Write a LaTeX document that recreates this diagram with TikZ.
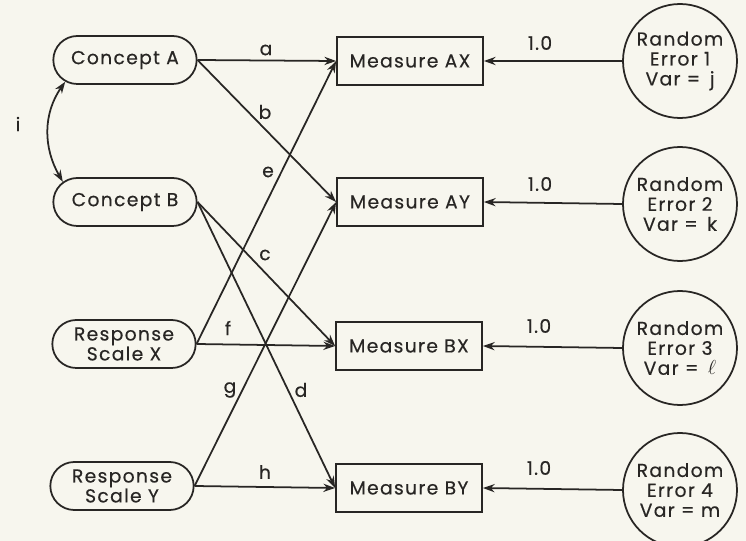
\documentclass[tikz,border=0pt]{standalone}
\usepackage{fontspec}
\setmainfont{Poppins}[FakeBold=0.4,LetterSpace=7]
\usetikzlibrary{shapes.misc,arrows.meta}
\definecolor{bg}{RGB}{247,246,238}
\definecolor{ink}{RGB}{40,38,36}
\begin{document}
\begin{tikzpicture}[x=0.03cm,y=-0.03cm,
  every node/.style={text=ink,font=\fontsize{16}{17}\selectfont},
  pill/.style={draw=ink,line width=1.5pt,rounded rectangle,minimum width=4.3cm,minimum height=1.44cm,inner sep=0pt,align=center},
  meas/.style={draw=ink,line width=1.5pt,rectangle,minimum width=4.38cm,minimum height=1.45cm,inner sep=0pt},
  err/.style={draw=ink,line width=1.5pt,circle,minimum size=3.42cm,inner sep=0pt,align=center},
  link/.style={draw=ink,line width=1.5pt,-{Stealth[length=10pt,width=7pt]}},
  lab/.style={inner sep=1pt}
]
\fill[bg] (0,0) rectangle (746,541);
\useasboundingbox (0,0) rectangle (746,541);

\node[pill] (A) at (125,60) {Concept\,\,A};
\node[pill] (B) at (125,202) {Concept\,\,B};
\node[pill] (X) at (124,344) {Response\\Scale X};
\node[pill] (Y) at (122,486) {Response\\Scale Y};

\node[meas] (AX) at (410,61) {Measure AX};
\node[meas] (AY) at (410,202) {Measure AY};
\node[meas] (BX) at (409,346) {Measure BX};
\node[meas] (BY) at (409,488) {Measure BY};

\node[err] (E1) at (680,61) {Random\\Error 1\\Var = \,j};
\node[err] (E2) at (680,204) {Random\\Error 2\\Var = \,k};
\node[err] (E3) at (680,348) {Random\\Error 3\\Var = \,$\ell$};
\node[err] (E4) at (680,490) {Random\\Error 4\\Var = m};

\draw[link] (A.east) -- (AX.west);
\draw[link] (A.east) -- (AY.west);
\draw[link] (B.east) -- (BX.west);
\draw[link] (B.east) -- (BY.west);
\draw[link] (X.east) -- (AX.west);
\draw[link] (X.east) -- (BX.west);
\draw[link] (Y.east) -- (AY.west);
\draw[link] (Y.east) -- (BY.west);

\draw[link] (E1.west) -- (AX.east);
\draw[link] (E2.west) -- (AY.east);
\draw[link] (E3.west) -- (BX.east);
\draw[link] (E4.west) -- (BY.east);

\draw[draw=ink,line width=1.5pt,{Stealth[length=10pt,width=7pt]}-{Stealth[length=10pt,width=7pt]}]
  (A.200) to[out=235,in=120] (B.162);

\node[lab] (li) at (18,124) {i};
\node[lab] (la) at (266,50) {a};
\node[lab] (lb) at (265,112) {b};
\node[lab] (le) at (268,172) {e};
\node[lab] (lc) at (265,255) {c};
\node[lab] (lf) at (228,328) {f};
\node[lab] (lg) at (230,390) {g};
\node[lab] (ld) at (301,390) {d};
\node[lab] (lh) at (265,472) {h};
\node[lab] (o1) at (540,43) {1.0};
\node[lab] (o2) at (540,184) {1.0};
\node[lab] (o3) at (539,326) {1.0};
\node[lab] (o4) at (539,468) {1.0};
\end{tikzpicture}
\end{document}
